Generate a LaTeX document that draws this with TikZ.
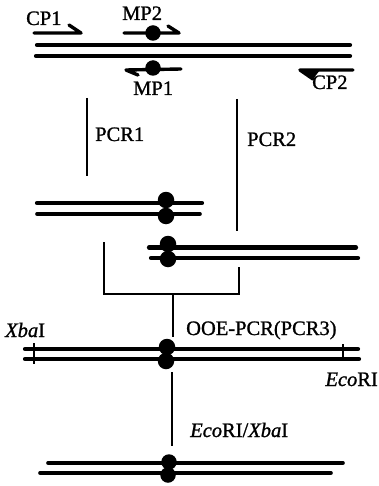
\documentclass[tikz,border=0pt]{standalone}
\usepackage{fontspec}
\setmainfont{Liberation Serif}[RawFeature={embolden=1.1}]
\begin{document}
\begin{tikzpicture}[x=1pt,y=-1pt,
  strand/.style={line width=4.2pt,line cap=round},
  thinstrand/.style={line width=3.6pt,line cap=round},
  flow/.style={line width=2.4pt},
  primer/.style={line width=3.4pt,line cap=round,line join=round},
  dot/.style={circle,fill=black,inner sep=0pt,minimum size=#1},
  lab/.style={font=\fontsize{20.5}{22}\selectfont,inner sep=0pt,text=black}]
\useasboundingbox (0,0) rectangle (378,486);
% top duplex
\coordinate (t1a) at (37,45); \coordinate (t1b) at (350,45);
\coordinate (t2a) at (36,56); \coordinate (t2b) at (350,56);
\draw[strand] (t1a) -- (t1b);
\draw[strand] (t2a) -- (t2b);
% CP1
\node[lab,anchor=base west] (cp1) at (26,25) {CP1};
\coordinate (c1a) at (34,33); \coordinate (c1b) at (81,33); \coordinate (c1c) at (69,25);
\draw[primer] (c1a) -- (c1b) -- (c1c);
% MP2
\node[lab,anchor=base west] (mp2) at (122,20) {MP2};
\coordinate (m2a) at (124,33); \coordinate (m2b) at (179,33); \coordinate (m2c) at (168,26);
\draw[primer] (m2a) -- (m2b) -- (m2c);
\node[dot=15.5pt] (d2) at (153,33) {};
% MP1
\coordinate (m1a) at (181,69); \coordinate (m1b) at (126,70); \coordinate (m1c) at (138,75);
\draw[primer] (m1a) -- (m1b) -- (m1c);
\node[dot=15.5pt] (d1) at (153,68) {};
\node[lab,anchor=base west] (mp1) at (133,95) {MP1};
% CP2
\coordinate (c2a) at (353,70); \coordinate (c2b) at (300,70); \coordinate (c2c) at (313,79); \coordinate (c2d) at (320,70);
\draw[primer] (c2a) -- (c2b) -- (c2c);
\fill (c2b) -- (c2c) -- (c2d) -- cycle;
\node[lab,anchor=base west] (cp2) at (312,89) {CP2};
% PCR arrows
\coordinate (p1a) at (87,98); \coordinate (p1b) at (87,176);
\draw[flow] (p1a) -- (p1b);
\node[lab,anchor=base west] (pcr1) at (95,141) {PCR1};
\coordinate (p2a) at (237,99); \coordinate (p2b) at (237,231);
\draw[flow] (p2a) -- (p2b);
\node[lab,anchor=base west] (pcr2) at (247,146) {PCR2};
% left product
\coordinate (l1a) at (37,203); \coordinate (l1b) at (202,203);
\coordinate (l2a) at (37,214); \coordinate (l2b) at (200,214);
\draw[strand] (l1a) -- (l1b);
\draw[thinstrand] (l2a) -- (l2b);
\node[dot=16.5pt] (ld1) at (166,200) {};
\node[dot=16.5pt] (ld2) at (166,216) {};
% right product
\coordinate (r1a) at (149,247.5); \coordinate (r1b) at (356,247.5);
\coordinate (r2a) at (151,258); \coordinate (r2b) at (358,258);
\draw[strand] (r1a) -- (r1b);
\draw[strand] (r2a) -- (r2b);
\node[dot=16.5pt] (rd1) at (168,244) {};
\node[dot=16.5pt] (rd2) at (168,259) {};
% bracket
\coordinate (ba) at (104,242); \coordinate (bb) at (104,294);
\coordinate (bc) at (239,294); \coordinate (bd) at (239,267);
\draw[flow,line join=miter] (ba) -- (bb) -- (bc) -- (bd);
\coordinate (bm) at (173,294); \coordinate (bn) at (173,337);
\draw[flow] (bm) -- (bn);
\node[lab,anchor=base west] (ooe) at (186,335) {OOE-PCR(PCR3)};
% full length
\coordinate (f1a) at (25,349); \coordinate (f1b) at (358,349);
\coordinate (f2a) at (25,359); \coordinate (f2b) at (359,359);
\draw[strand] (f1a) -- (f1b);
\draw[strand] (f2a) -- (f2b);
\node[dot=16.5pt] (fd1) at (167,347) {};
\node[dot=16.5pt] (fd2) at (166,361) {};
\coordinate (x1) at (34,343); \coordinate (x2) at (34,364);
\draw[line width=2.8pt] (x1) -- (x2);
\coordinate (e1) at (343,344); \coordinate (e2) at (343,358);
\draw[line width=1.4pt] (e1) -- (e2);
\node[lab,anchor=base west] (xba) at (5,337) {\textit{Xba}I};
\node[lab,anchor=base east] (eco) at (378,386) {\textit{Eco}RI};
% digest arrow
\coordinate (da) at (172,372); \coordinate (db) at (172,446);
\draw[line width=2.8pt] (da) -- (db);
\node[lab,anchor=base west] (ecox) at (190,437) {\textit{Eco}RI/\textit{Xba}I};
% bottom
\coordinate (b1a) at (48,463); \coordinate (b1b) at (343,463);
\coordinate (b2a) at (40,473); \coordinate (b2b) at (331,473);
\draw[thinstrand] (b1a) -- (b1b);
\draw[thinstrand] (b2a) -- (b2b);
\node[dot=15.5pt] (bd1) at (169,462) {};
\node[dot=15.5pt] (bd2) at (168,475) {};
\end{tikzpicture}
\end{document}
